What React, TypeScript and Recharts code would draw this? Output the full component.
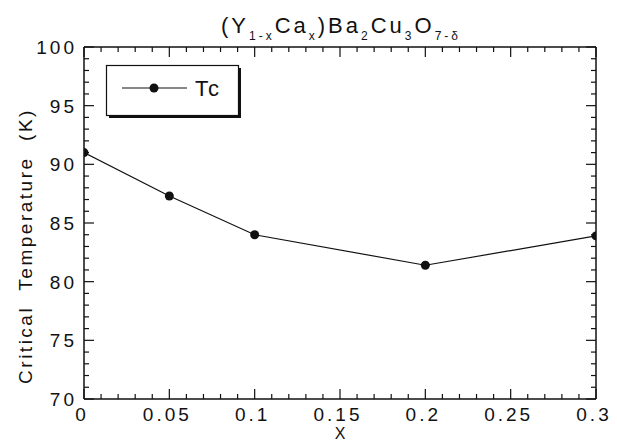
import React from 'react';
import { LineChart, Line, XAxis, YAxis, Legend } from 'recharts';

const xValues = [0, 0.05, 0.1, 0.2, 0.3];
const tcValues = [91.0, 87.3, 84.0, 81.4, 83.9];
const seriesName = 'Tc';

const xMajorTicks = [0, 0.05, 0.1, 0.15, 0.2, 0.25, 0.3];
const xTickLabels = ['0', '0.05', '0.1', '0.15', '0.2', '0.25', '0.3'];
const xAllTicks = [
  0, 0.01, 0.02, 0.03, 0.04, 0.05, 0.06, 0.07, 0.08, 0.09, 0.1,
  0.11, 0.12, 0.13, 0.14, 0.15, 0.16, 0.17, 0.18, 0.19, 0.2,
  0.21, 0.22, 0.23, 0.24, 0.25, 0.26, 0.27, 0.28, 0.29, 0.3,
];
const yMajorTicks = [70, 75, 80, 85, 90, 95, 100];
const yTickLabels = ['70', '75', '80', '85', '90', '95', '100'];
const yAllTicks = [
  70, 71, 72, 73, 74, 75, 76, 77, 78, 79, 80, 81, 82, 83, 84, 85,
  86, 87, 88, 89, 90, 91, 92, 93, 94, 95, 96, 97, 98, 99, 100,
];

const data = xValues.map((x, i) => ({ x, tc: tcValues[i] }));

const FONT = '"Liberation Sans", Arial, Helvetica, sans-serif';
const INK = '#111';

const xLabelFor = (v: number) => {
  const i = xMajorTicks.findIndex((m) => Math.abs(m - v) < 1e-9);
  return i >= 0 ? xTickLabels[i] : null;
};
const yLabelFor = (v: number) => {
  const i = yMajorTicks.findIndex((m) => Math.abs(m - v) < 1e-9);
  return i >= 0 ? yTickLabels[i] : null;
};

const BottomTick = (props: any) => {
  const { x, y, payload } = props;
  const label = xLabelFor(payload.value);
  return (
    <g>
      <line x1={x} y1={y} x2={x} y2={y - (label ? 10 : 5)} stroke={INK} strokeWidth={1.2} />
      {label && (
        <text x={x - 2} y={y + 22} textAnchor="middle" fontFamily={FONT} fontSize={19} letterSpacing={3} fill={INK}>
          {label}
        </text>
      )}
    </g>
  );
};

const TopTick = (props: any) => {
  const { x, y, payload } = props;
  const label = xLabelFor(payload.value);
  return <line x1={x} y1={y} x2={x} y2={y + (label ? 10 : 5)} stroke={INK} strokeWidth={1.2} />;
};

const LeftTick = (props: any) => {
  const { x, y, payload } = props;
  const label = yLabelFor(payload.value);
  return (
    <g>
      <line x1={x} y1={y} x2={x + (label ? 10 : 5)} y2={y} stroke={INK} strokeWidth={1.2} />
      {label && (
        <text x={x - 7} y={y + 7} textAnchor="end" fontFamily={FONT} fontSize={19} letterSpacing={3} fill={INK}>
          {label}
        </text>
      )}
    </g>
  );
};

const RightTick = (props: any) => {
  const { x, y, payload } = props;
  const label = yLabelFor(payload.value);
  return <line x1={x} y1={y} x2={x - (label ? 10 : 5)} y2={y} stroke={INK} strokeWidth={1.2} />;
};

const LegendContent = (props: any) => {
  const items = (props.payload || []).filter((p: any) => p.type !== 'none');
  return (
    <svg width={140} height={58} style={{ display: 'block', overflow: 'visible' }}>
      <rect x={3} y={3} width={132} height={50} fill={INK} />
      <rect x={0.5} y={0.5} width={132} height={50} fill="#fff" stroke={INK} strokeWidth={1.2} />
      {items.map((it: any, i: number) => (
        <g key={i}>
          <line x1={16} y1={23} x2={81} y2={23} stroke={INK} strokeWidth={1.2} />
          <circle cx={48} cy={23} r={4.5} fill={INK} />
          <text x={89} y={31} fontFamily={FONT} fontSize={22} letterSpacing={2} fill={INK}>
            {it.value}
          </text>
        </g>
      ))}
    </svg>
  );
};

export default function App() {
  return (
    <div style={{ position: 'relative', width: 609, height: 435 }}>
      <LineChart width={609} height={435} data={data} margin={{ top: 0, right: 0, bottom: 0, left: 0 }}>
        <XAxis
          xAxisId="b"
          type="number"
          dataKey="x"
          domain={[0, 0.3]}
          ticks={xAllTicks}
          interval={0}
          height={44}
          tickSize={0}
          tickMargin={0}
          tickLine={false}
          tick={<BottomTick />}
          axisLine={{ stroke: INK, strokeWidth: 1.5 }}
          allowDataOverflow
        />
        <XAxis
          xAxisId="t"
          orientation="top"
          type="number"
          dataKey="x"
          domain={[0, 0.3]}
          ticks={xAllTicks}
          interval={0}
          height={39}
          tickSize={0}
          tickMargin={0}
          tickLine={false}
          tick={<TopTick />}
          axisLine={{ stroke: INK, strokeWidth: 1.5 }}
          allowDataOverflow
        />
        <YAxis
          yAxisId="l"
          type="number"
          domain={[70, 100]}
          ticks={yAllTicks}
          interval={0}
          width={76}
          tickSize={0}
          tickMargin={0}
          tickLine={false}
          tick={<LeftTick />}
          axisLine={{ stroke: INK, strokeWidth: 1.5 }}
          allowDataOverflow
        />
        <YAxis
          yAxisId="r"
          orientation="right"
          type="number"
          domain={[70, 100]}
          ticks={yAllTicks}
          interval={0}
          width={21}
          tickSize={0}
          tickMargin={0}
          tickLine={false}
          tick={<RightTick />}
          axisLine={{ stroke: INK, strokeWidth: 1.5 }}
          allowDataOverflow
        />
        <Legend
          verticalAlign="middle"
          layout="horizontal"
          content={<LegendContent />}
          wrapperStyle={{ position: 'absolute', left: 98, top: 57, width: 140, height: 58 }}
        />
        <Line
          xAxisId="b"
          yAxisId="l"
          dataKey="tc"
          name={seriesName}
          stroke={INK}
          strokeWidth={1.2}
          dot={{ r: 4.5, fill: INK, stroke: INK, strokeWidth: 0 }}
          isAnimationActive={false}
        />
        <Line
          xAxisId="t"
          yAxisId="r"
          dataKey="tc"
          stroke="none"
          dot={false}
          activeDot={false}
          legendType="none"
          isAnimationActive={false}
        />
      </LineChart>
      <svg
        width={609}
        height={435}
        style={{ position: 'absolute', left: 0, top: 0, overflow: 'visible', pointerEvents: 'none' }}
      >
        <text x={333} y={25} textAnchor="middle" fontFamily={FONT} fontSize={22} letterSpacing={3} fill={INK}>
          <tspan>(Y</tspan>
          <tspan fontSize={12} dy={7}>1-x</tspan>
          <tspan dy={-7}>Ca</tspan>
          <tspan fontSize={12} dy={7}>x</tspan>
          <tspan dy={-7}>)Ba</tspan>
          <tspan fontSize={12} dy={7}>2</tspan>
          <tspan dy={-7}>Cu</tspan>
          <tspan fontSize={12} dy={7}>3</tspan>
          <tspan dy={-7}>O</tspan>
          <tspan fontSize={12} dy={7}>7-δ</tspan>
        </text>
        <text
          x={17}
          y={238}
          transform="rotate(-90 17 238)"
          textAnchor="middle"
          dominantBaseline="central"
          fontFamily={FONT}
          fontSize={19}
          letterSpacing={2.5}
          fill={INK}
          style={{ whiteSpace: 'pre' }}
        >
          {'Critical  Temperature  (K)'}
        </text>
        <text x={332} y={431} textAnchor="middle" fontFamily={FONT} fontSize={16} fill={INK}>
          X
        </text>
      </svg>
    </div>
  );
}
